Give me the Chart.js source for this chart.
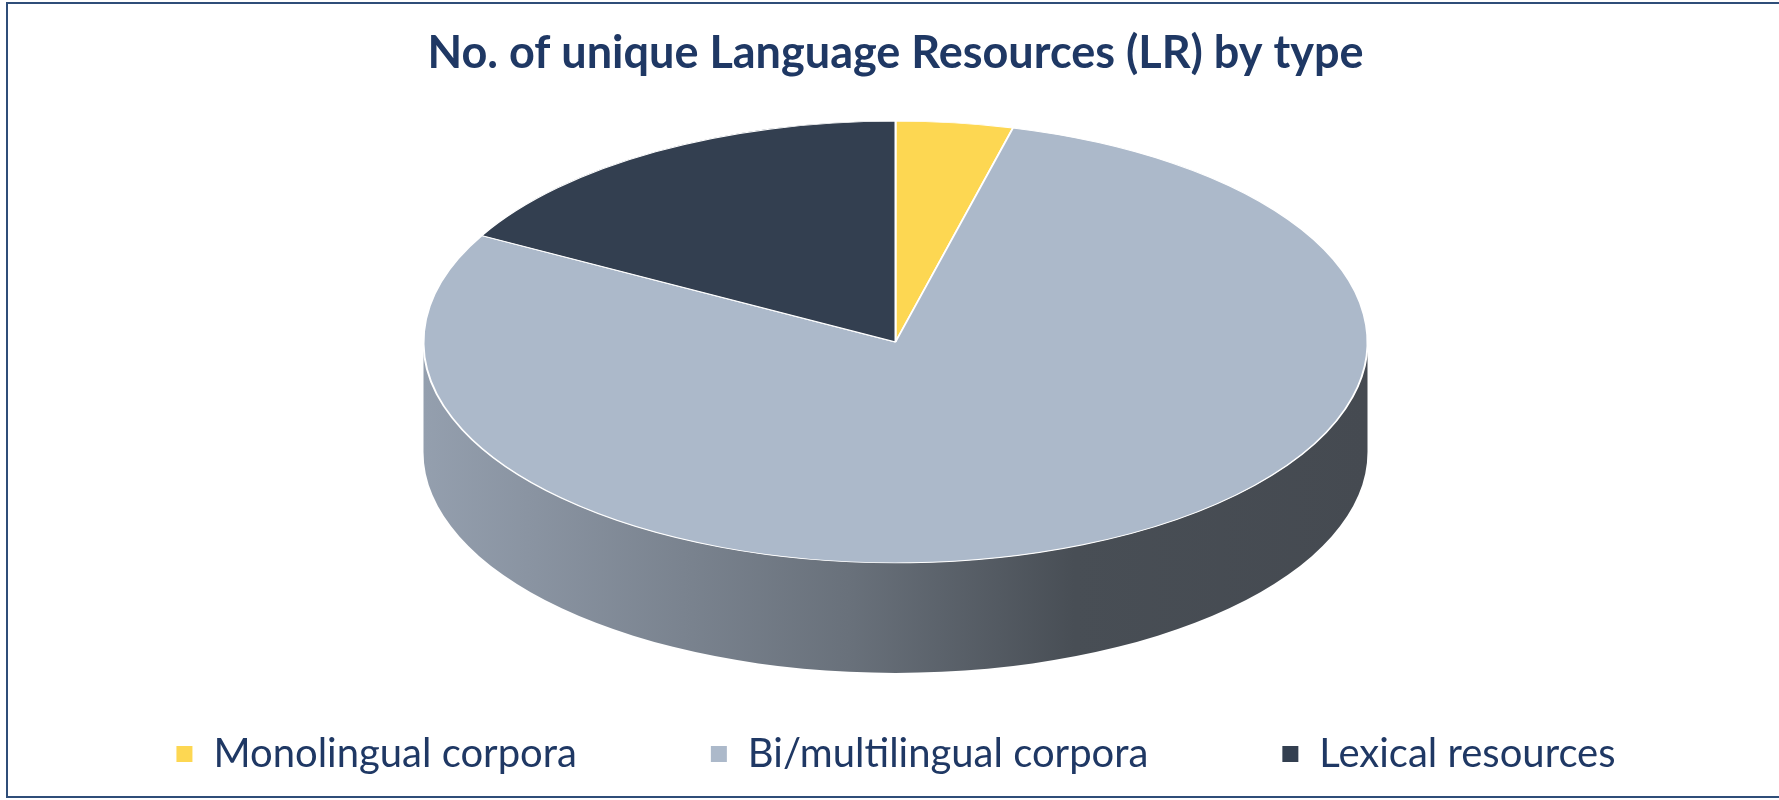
<!DOCTYPE html>
<html lang="en">
<head>
  <meta charset="UTF-8">
  <title>No. of unique Language Resources (LR) by type</title>
  <script src="https://cdn.jsdelivr.net/npm/chart.js"></script>
  <style>
    html, body { margin: 0; padding: 0; background: #fff; overflow: hidden; }
    .chart-box { position: absolute; left: 0; top: 0; width: 1779px; height: 800px; }
    .frame {
      position: absolute; left: 6px; top: 2px; width: 1800px; height: 796px;
      border: 2px solid #2f4e79; box-sizing: border-box; pointer-events: none;
    }
  </style>
</head>
<body>
  <div class="chart-box"><canvas id="chart"></canvas></div>
  <div class="frame"></div>

  <script>
    const categories = ["Monolingual corpora", "Bi/multilingual corpora", "Lexical resources"];
    const lrCounts = [4, 79, 17];
    const sliceColors = ["#FDD752", "#ACB9CA", "#333F50"];

    // darken a hex colour by multiplying its channels
    function shade(hex, k) {
      const n = parseInt(hex.slice(1), 16);
      const r = Math.round(((n >> 16) & 255) * k);
      const g = Math.round(((n >> 8) & 255) * k);
      const b = Math.round((n & 255) * k);
      return `rgb(${r},${g},${b})`;
    }

    // flatten the pie into an ellipse and give it a side wall
    const tiltPlugin = {
      id: "tilt",
      beforeDatasetsDraw(chart, args, opts) {
        const ctx = chart.ctx;
        const meta = chart.getDatasetMeta(0);
        meta.data.forEach((arc, i) => {
          const { x, y, startAngle, endAngle, outerRadius } =
            arc.getProps(["x", "y", "startAngle", "endAngle", "outerRadius"]);
          const a0 = Math.max(startAngle, 0);
          const a1 = Math.min(endAngle, Math.PI);
          if (a1 <= a0) return;
          const ry = outerRadius * opts.tilt;
          const grad = ctx.createLinearGradient(x - outerRadius, 0, x + outerRadius, 0);
          opts.sideStops.forEach(([pos, k]) => grad.addColorStop(pos, shade(sliceColors[i], k)));
          ctx.beginPath();
          ctx.ellipse(x, y, outerRadius, ry, 0, a0, a1);
          ctx.ellipse(x, y + opts.depth, outerRadius, ry, 0, a1, a0, true);
          ctx.closePath();
          ctx.fillStyle = grad;
          ctx.fill();
        });
        const { x, y } = meta.data[0];
        ctx.save();
        ctx.translate(x, y);
        ctx.scale(1, opts.tilt);
        ctx.translate(-x, -y);
      },
      afterDatasetsDraw(chart) {
        chart.ctx.restore();
      }
    };

    const ctx = document.getElementById("chart").getContext("2d");
    new Chart(ctx, {
      type: "pie",
      data: {
        labels: categories,
        datasets: [{
          data: lrCounts,
          backgroundColor: sliceColors,
          borderColor: "#ffffff",
          borderWidth: 2,
          radius: 472,
          clip: false
        }]
      },
      options: {
        responsive: true,
        maintainAspectRatio: false,
        animation: false,
        layout: { padding: { left: 12, bottom: 16 } },
        plugins: {
          tilt: {
            tilt: 0.468,
            depth: 110,
            sideStops: [[0, 0.86], [0.11, 0.8], [0.45, 0.61], [0.69, 0.42], [1, 0.4]]
          },
          title: {
            display: true,
            text: "No. of unique Language Resources (LR) by type",
            color: "#1F3864",
            font: { family: "Lato", size: 45, weight: "bold" },
            padding: { top: 26, bottom: 3 }
          },
          legend: {
            position: "bottom",
            labels: {
              color: "#1F3864",
              font: { family: "Lato", size: 40 },
              boxWidth: 18,
              boxHeight: 18,
              padding: 133
            }
          },
          tooltip: { enabled: false }
        }
      },
      plugins: [tiltPlugin]
    });
  </script>
</body>
</html>
